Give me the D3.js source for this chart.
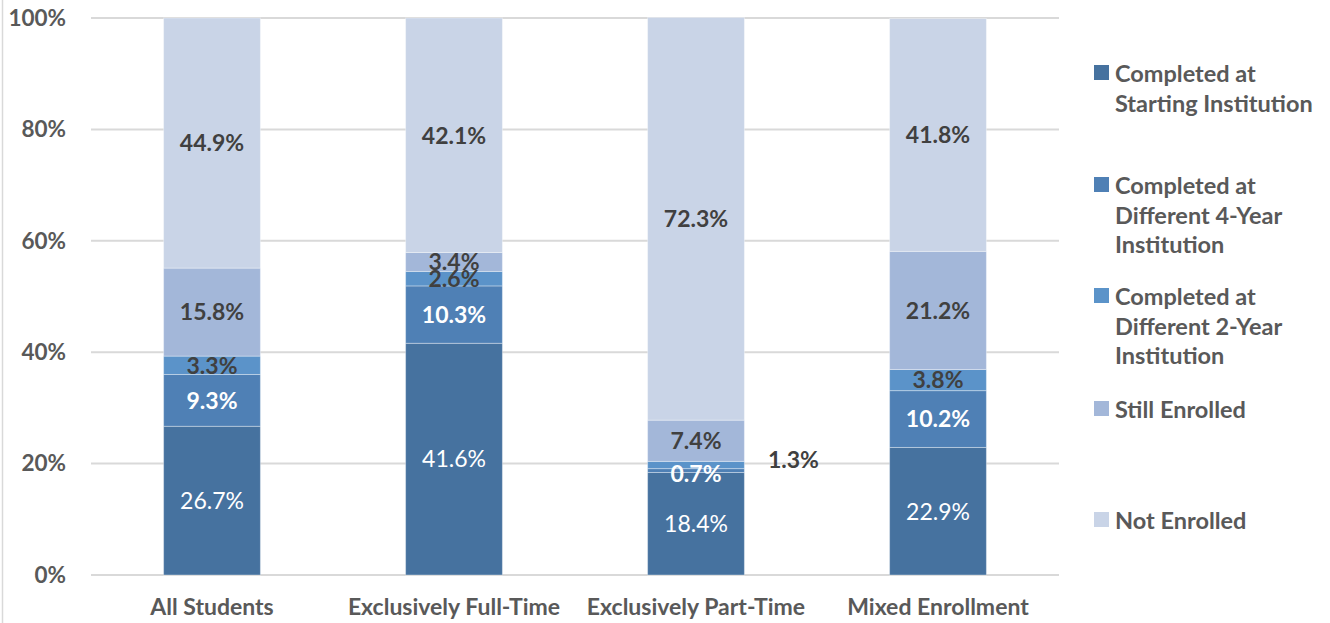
<!DOCTYPE html>
<html>
<head>
<meta charset="utf-8">
<script src="https://cdn.jsdelivr.net/npm/d3@7"></script>
<style>
body { margin: 0; background: #fff; }
svg { font-family: Lato, "Open Sans", sans-serif; }
</style>
</head>
<body>
<svg id="chart" width="1330" height="623"></svg>
<script>
var categories = ["All Students", "Exclusively Full-Time", "Exclusively Part-Time", "Mixed Enrollment"];
var seriesNames = ["Completed at Starting Institution", "Completed at Different 4-Year Institution",
    "Completed at Different 2-Year Institution", "Still Enrolled", "Not Enrolled"];
var starting = [26.7, 41.6, 18.4, 22.9];
var diff4 = [9.3, 10.3, 0.7, 10.2];
var diff2 = [3.3, 2.6, 1.3, 3.8];
var still = [15.8, 3.4, 7.4, 21.2];
var notEnrolled = [44.9, 42.1, 72.3, 41.8];
var yTicks = [0, 20, 40, 60, 80, 100];

var legendLines = [
    ["Completed at", "Starting Institution"],
    ["Completed at", "Different 4-Year", "Institution"],
    ["Completed at", "Different 2-Year", "Institution"],
    ["Still Enrolled"],
    ["Not Enrolled"]
];

var colors = ["#46729f", "#4f80b5", "#5b93c9", "#a3b7d9", "#c9d4e7"];
var labelColors = ["#fff", "#fff", "#404040", "#404040", "#404040"];
var labelWeights = ["normal", "bold", "bold", "bold", "bold"];

var svg = d3.select("#chart");
var margin = { top: 18, left: 91, right: 271, bottom: 48 };
var width = 1330 - margin.left - margin.right,
    height = 623 - margin.top - margin.bottom;

// left border of the chart area
svg.append("line")
    .attr("x1", 2.5).attr("x2", 2.5).attr("y1", 0).attr("y2", 623)
    .attr("stroke", "#d9d9d9").attr("stroke-width", 1.5);

var g = svg.append("g")
    .attr("transform", "translate(" + margin.left + "," + margin.top + ")");

var x = d3.scaleBand().domain(categories).range([0, width]).paddingInner(0.6).paddingOuter(0.3);
var y = d3.scaleLinear().domain([0, 100]).range([height, 0]);

// build rows for stacking
var rows = categories.map(function (c, i) {
    return { cat: c, s0: starting[i], s1: diff4[i], s2: diff2[i], s3: still[i], s4: notEnrolled[i] };
});
var keys = ["s0", "s1", "s2", "s3", "s4"];
var stacked = d3.stack().keys(keys)(rows);

// gridlines
g.append("g")
    .selectAll("line")
    .data(yTicks)
    .enter().append("line")
    .attr("x1", 0).attr("x2", width)
    .attr("y1", function (d) { return y(d); })
    .attr("y2", function (d) { return y(d); })
    .attr("stroke", "#d9d9d9")
    .attr("stroke-width", 2);

var yAxis = g.append("g")
    .call(d3.axisLeft(y).tickValues(yTicks).tickSize(0).tickPadding(25).tickFormat(function (d) { return d + "%"; }));
yAxis.select(".domain").remove();
yAxis.selectAll("text")
    .attr("fill", "#595959")
    .attr("font-size", "22.5px")
    .attr("font-weight", "bold")
    .attr("font-family", "Lato, sans-serif");

var xAxis = g.append("g")
    .attr("transform", "translate(0," + height + ")")
    .call(d3.axisBottom(x).tickSize(0).tickPadding(24));
xAxis.select(".domain").remove();
xAxis.selectAll("text")
    .attr("fill", "#595959")
    .attr("font-size", "23px")
    .attr("font-weight", "bold")
    .attr("font-family", "Lato, sans-serif");

var layers = g.selectAll(".layer")
    .data(stacked)
    .enter().append("g")
    .attr("class", "layer")
    .attr("fill", function (d, i) { return colors[i]; });

layers.selectAll("rect")
    .data(function (d) { return d; })
    .enter().append("rect")
    .attr("x", function (d) { return x(d.data.cat); })
    .attr("y", function (d) { return y(d[1]); })
    .attr("width", x.bandwidth())
    .attr("height", function (d) { return y(d[0]) - y(d[1]); })
    .attr("stroke", "rgba(255,255,255,0.35)")
    .attr("stroke-width", 1);

// data labels
stacked.forEach(function (layer, li) {
    layer.forEach(function (d, ci) {
        var val = d[1] - d[0];
        var cx = x(d.data.cat) + x.bandwidth() / 2;
        var cy = (y(d[0]) + y(d[1])) / 2;
        var color = labelColors[li];
        // tiny part-time 2-year segment label sits outside the bar
        if (li === 2 && ci === 2) {
            cx = x(d.data.cat) + x.bandwidth() + 49;
            cy = cy - 5;
            color = "#404040";
        }
        if (li === 1 && ci === 2) cy = cy + 3;
        g.append("text")
            .attr("x", cx)
            .attr("y", cy)
            .attr("dy", "0.36em")
            .attr("text-anchor", "middle")
            .attr("font-size", "23px")
            .attr("font-weight", labelWeights[li])
            .attr("fill", color)
            .text(val.toFixed(1) + "%");
    });
});

// legend
var legendTops = [65, 177, 288, 401, 512];
var legend = svg.selectAll(".legend")
    .data(legendLines)
    .enter().append("g")
    .attr("class", "legend")
    .attr("transform", function (d, i) { return "translate(1094," + legendTops[i] + ")"; });

legend.append("rect")
    .attr("width", 15).attr("height", 15)
    .attr("fill", function (d, i) { return colors[i]; });

legend.each(function (lines) {
    var t = d3.select(this).append("text")
        .attr("x", 21)
        .attr("y", 17)
        .attr("fill", "#595959")
        .attr("font-size", "23.5px")
        .attr("font-weight", "bold");
    lines.forEach(function (line, k) {
        t.append("tspan").attr("x", 21).attr("y", 17 + k * 29.5).text(line);
    });
});
</script>
</body>
</html>
